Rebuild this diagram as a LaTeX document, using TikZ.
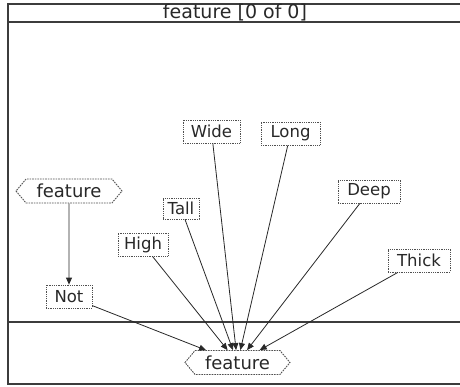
\documentclass[tikz,border=0pt]{standalone}
\usepackage{fontspec}
\setmainfont{DejaVu Sans}
\usepackage{tikz}
\usetikzlibrary{shapes.symbols, arrows.meta}
\definecolor{framegray}{RGB}{60,60,60}
\definecolor{boxgray}{RGB}{80,80,80}
\definecolor{linedark}{RGB}{40,40,40}
\tikzset{
  lbl/.style={font=\fontsize{16.5}{18}\selectfont, text=linedark},
  biglbl/.style={font=\fontsize{18}{20}\selectfont, text=linedark},
  featbox/.style={lbl, rectangle, draw=boxgray, densely dotted,
    line width=0.8pt, minimum height=23pt, inner sep=0pt},
  feathex/.style={biglbl, signal, signal to=east and west,
    signal pointer angle=100, draw=boxgray, dash pattern=on 1.6pt off 1pt,
    line width=0.9pt, minimum height=24pt, inner xsep=2pt, inner ysep=0pt},
  frame/.style={framegray, line width=1.1pt},
  link/.style={-{Triangle[width=6pt,length=7pt]}, linedark, line width=0.8pt}
}
\begin{document}
\begin{tikzpicture}[x=1pt,y=-1pt]
  \useasboundingbox (0,0) rectangle (460,386);
  % Frame and header
  \draw[frame] (460,4) -- (8,4) -- (8,384) -- (460,384);
  \draw[frame] (8,22) -- (460,22);
  \draw[frame] (8,322) -- (460,322);
  \node[biglbl, font=\fontsize{19}{20}\selectfont] (hdr) at (235,12.5) {feature [0 of 0]};
  % Feature nodes
  \node[feathex, minimum width=106pt] (featA) at (69,191) {feature};
  \node[feathex, minimum width=105pt] (featB) at (237.5,362.5) {feature};
  % Property boxes
  \node[featbox, minimum width=46pt] (notbox) at (69,296.5) {Not};
  \node[featbox, minimum width=50pt] (high) at (143,244.5) {High};
  \node[featbox, minimum width=36pt, minimum height=21pt] (tall) at (181,208.5) {Tall};
  \node[featbox, minimum width=57pt] (wide) at (211.5,131.5) {Wide};
  \node[featbox, minimum width=59pt] (long) at (290.5,133.5) {Long};
  \node[featbox, minimum width=62pt] (deep) at (369,191.5) {Deep};
  \node[featbox, minimum width=62pt] (thick) at (419,260.5) {Thick};
  % Links
  \draw[link] (featA) -- (notbox);
  \foreach \src in {notbox, high, tall, wide, long, deep, thick}
    \draw[link] (\src) -- (featB);
\end{tikzpicture}
\end{document}
